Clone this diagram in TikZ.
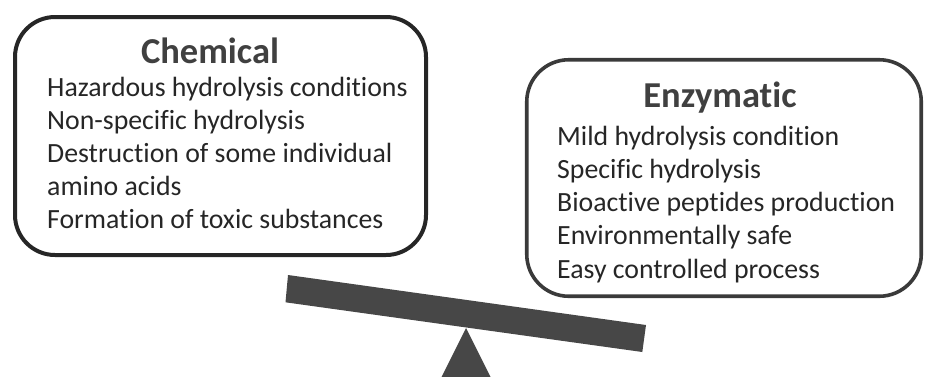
\documentclass[tikz,border=0pt]{standalone}
\usepackage{fontspec}
\setmainfont{Carlito}[Ligatures={NoCommon}]
\definecolor{bordA}{HTML}{262626}
\definecolor{bordB}{HTML}{3A3A3A}
\definecolor{titlec}{HTML}{404040}
\definecolor{bodyc}{HTML}{262626}
\definecolor{barc}{HTML}{474747}
\tikzset{
  boxA/.style={draw=bordA, line width=4pt, rounded corners=40pt, fill=white, inner sep=0pt},
  boxB/.style={draw=bordB, line width=3.6pt, rounded corners=42pt, fill=white, inner sep=0pt},
  title/.style={font=\fontsize{36.5}{44}\selectfont\bfseries, text=titlec, anchor=base, inner sep=0pt},
  line/.style={font=\fontsize{27.8}{33}\selectfont, text=bodyc, anchor=base west, inner sep=0pt},
  solid gray/.style={fill=barc, draw=none}
}
\begin{document}
\begin{tikzpicture}[x=1pt,y=-1pt]
\useasboundingbox (0,0) rectangle (926,376);
\clip (0,0) rectangle (926,376);
% boxes
\node[boxA, minimum width=411pt, minimum height=238pt] (chem) at (220.5,136) {};
\node[boxB, minimum width=394.5pt, minimum height=236.5pt] (enz) at (724,178) {};
% left texts
\node[title] (chemt) at (210,63) {Chemical};
\node[line] (c1) at (47,96.5) {Hazardous hydrolysis conditions};
\node[line] (c2) at (47,129.5) {Non-specific hydrolysis};
\node[line] (c3) at (47,162.5) {Destruction of some individual};
\node[line] (c4) at (47,195.5) {amino acids};
\node[line] (c5) at (47,228.5) {Formation of toxic substances};
% right texts
\node[title] (enzt) at (720,107) {Enzymatic};
\node[line] (e1) at (557,145) {Mild hydrolysis condition};
\node[line] (e2) at (557,178) {Specific hydrolysis};
\node[line] (e3) at (557,211) {Bioactive peptides production};
\node[line] (e4) at (557,244.5) {Environmentally safe};
\node[line] (e5) at (557,278) {Easy controlled process};
% seesaw
\coordinate (b1) at (288,275);
\coordinate (b2) at (646,325);
\coordinate (b3) at (642.3,352);
\coordinate (b4) at (285.5,302.3);
\fill[solid gray] (b1) -- (b2) -- (b3) -- (b4) -- cycle;
\coordinate (apex) at (466,328);
\coordinate (tl) at (430,400);
\coordinate (tr) at (502,400);
\fill[solid gray] (apex) -- (tr) -- (tl) -- cycle;
\end{tikzpicture}
\end{document}
